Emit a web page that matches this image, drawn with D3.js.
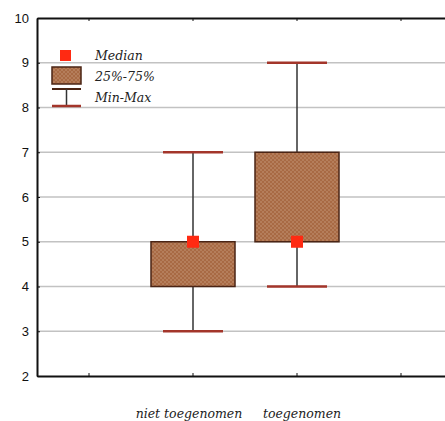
<!DOCTYPE html>
<html>
<head>
<meta charset="utf-8">
<script src="https://cdn.jsdelivr.net/npm/d3@7"></script>
<style>
  body { margin: 0; background: #fff; overflow: hidden; }
  svg { display: block; }
  .tick text { font-family: "Liberation Sans", Arial, sans-serif; font-size: 13px; fill: #111; }
  .lbl { font-family: "DejaVu Serif", serif; font-style: italic; font-size: 12.5px; fill: #222; }
</style>
</head>
<body>
<div id="chart"></div>
<script>
var categories = ["", "niet toegenomen", "toegenomen", " "];
var groups = ["niet toegenomen", "toegenomen"];
var minVals = [3, 4];
var q1Vals = [4, 5];
var medianVals = [5, 5];
var q3Vals = [5, 7];
var maxVals = [7, 9];
var yTicks = [2, 3, 4, 5, 6, 7, 8, 9, 10];

var margin = {left: 37, right: 0, top: 18, bottom: 45};
var width = 416;
var height = 421 - margin.top - margin.bottom;

var svg = d3.select("#chart").append("svg")
  .attr("width", 445)
  .attr("height", 421);

// hatched brown fill
var defs = svg.append("defs");
var pat = defs.append("pattern")
  .attr("id", "hatch")
  .attr("width", 4).attr("height", 4)
  .attr("patternUnits", "userSpaceOnUse");
pat.append("rect").attr("width", 4).attr("height", 4).attr("fill", "#a86a44");
pat.append("path").attr("d", "M0,4 L4,0 M0,0 L4,4")
  .attr("stroke", "#ba8664").attr("stroke-width", 0.7);

var g = svg.append("g")
  .attr("transform", "translate(" + margin.left + "," + margin.top + ")");

var x = d3.scaleBand().domain(categories).range([0, width]);
var y = d3.scaleLinear().domain([2, 10]).range([height, 0]);

// gridlines
g.selectAll(".grid").data(yTicks.slice(1, -1)).enter()
  .append("line")
    .attr("x1", 0).attr("x2", width)
    .attr("y1", function(d) { return y(d); })
    .attr("y2", function(d) { return y(d); })
    .attr("stroke", "#c2c2c2").attr("stroke-width", 1.5);

// axes
var yAxis = g.append("g")
  .call(d3.axisLeft(y).tickValues(yTicks).tickSize(-3).tickSizeOuter(0).tickPadding(8));
yAxis.select(".domain").attr("stroke", "#111").attr("stroke-width", 2);
yAxis.selectAll(".tick line").attr("stroke", "#111");

var xAxis = g.append("g")
  .attr("transform", "translate(0," + height + ")")
  .call(d3.axisBottom(x).tickSize(-3).tickSizeOuter(0).tickFormat(""));
xAxis.select(".domain").attr("stroke", "#111").attr("stroke-width", 2);
xAxis.selectAll(".tick line").attr("stroke", "#111");

var topAxis = g.append("g")
  .call(d3.axisTop(x).tickSize(-3).tickSizeOuter(0).tickFormat(""));
topAxis.select(".domain").attr("stroke", "#111").attr("stroke-width", 2);
topAxis.selectAll(".tick line").attr("stroke", "#111");

// category labels
g.selectAll(".catlbl").data(groups).enter()
  .append("text")
    .attr("class", "lbl")
    .attr("x", function(d, i) { return x(d) + x.bandwidth() / 2 + (i === 0 ? -4 : 5); })
    .attr("y", height + 42)
    .attr("text-anchor", "middle")
    .text(function(d) { return d; });

var boxW = 84, capW = 60;
var boxes = g.selectAll(".box").data(groups).enter()
  .append("g")
    .attr("transform", function(d) { return "translate(" + (x(d) + x.bandwidth() / 2) + ",0)"; });

boxes.append("line")
  .attr("y1", function(d, i) { return y(minVals[i]); })
  .attr("y2", function(d, i) { return y(maxVals[i]); })
  .attr("stroke", "#333").attr("stroke-width", 1.5);

boxes.append("rect")
  .attr("x", -boxW / 2)
  .attr("width", boxW)
  .attr("y", function(d, i) { return y(q3Vals[i]); })
  .attr("height", function(d, i) { return y(q1Vals[i]) - y(q3Vals[i]); })
  .attr("fill", "url(#hatch)")
  .attr("stroke", "#4a2414").attr("stroke-width", 1.5);

[minVals, maxVals].forEach(function(arr) {
  boxes.append("line")
    .attr("x1", -capW / 2).attr("x2", capW / 2)
    .attr("y1", function(d, i) { return y(arr[i]); })
    .attr("y2", function(d, i) { return y(arr[i]); })
    .attr("stroke", "#a3352a").attr("stroke-width", 2.5);
});

boxes.append("rect")
  .attr("x", -6).attr("width", 12).attr("height", 12)
  .attr("y", function(d, i) { return y(medianVals[i]) - 6; })
  .attr("fill", "#ff2a12");

// legend
var lg = svg.append("g");
lg.append("rect").attr("x", 60).attr("y", 50).attr("width", 11).attr("height", 11).attr("fill", "#ff2a12");
lg.append("rect").attr("x", 52).attr("y", 67).attr("width", 29).attr("height", 17)
  .attr("fill", "url(#hatch)").attr("stroke", "#4a2414").attr("stroke-width", 1.5);
lg.append("line").attr("x1", 52).attr("x2", 81).attr("y1", 89).attr("y2", 89)
  .attr("stroke", "#4a2414").attr("stroke-width", 2);
lg.append("line").attr("x1", 66.5).attr("x2", 66.5).attr("y1", 89).attr("y2", 106)
  .attr("stroke", "#333").attr("stroke-width", 1.5);
lg.append("line").attr("x1", 52).attr("x2", 81).attr("y1", 106).attr("y2", 106)
  .attr("stroke", "#a3352a").attr("stroke-width", 2.5);
var legendText = ["Median", "25%-75%", "Min-Max"];
lg.selectAll(".lt").data(legendText).enter()
  .append("text")
    .attr("class", "lbl")
    .attr("x", 95)
    .attr("y", function(d, i) { return 60 + i * 21; })
    .text(function(d) { return d; });
</script>
</body>
</html>
